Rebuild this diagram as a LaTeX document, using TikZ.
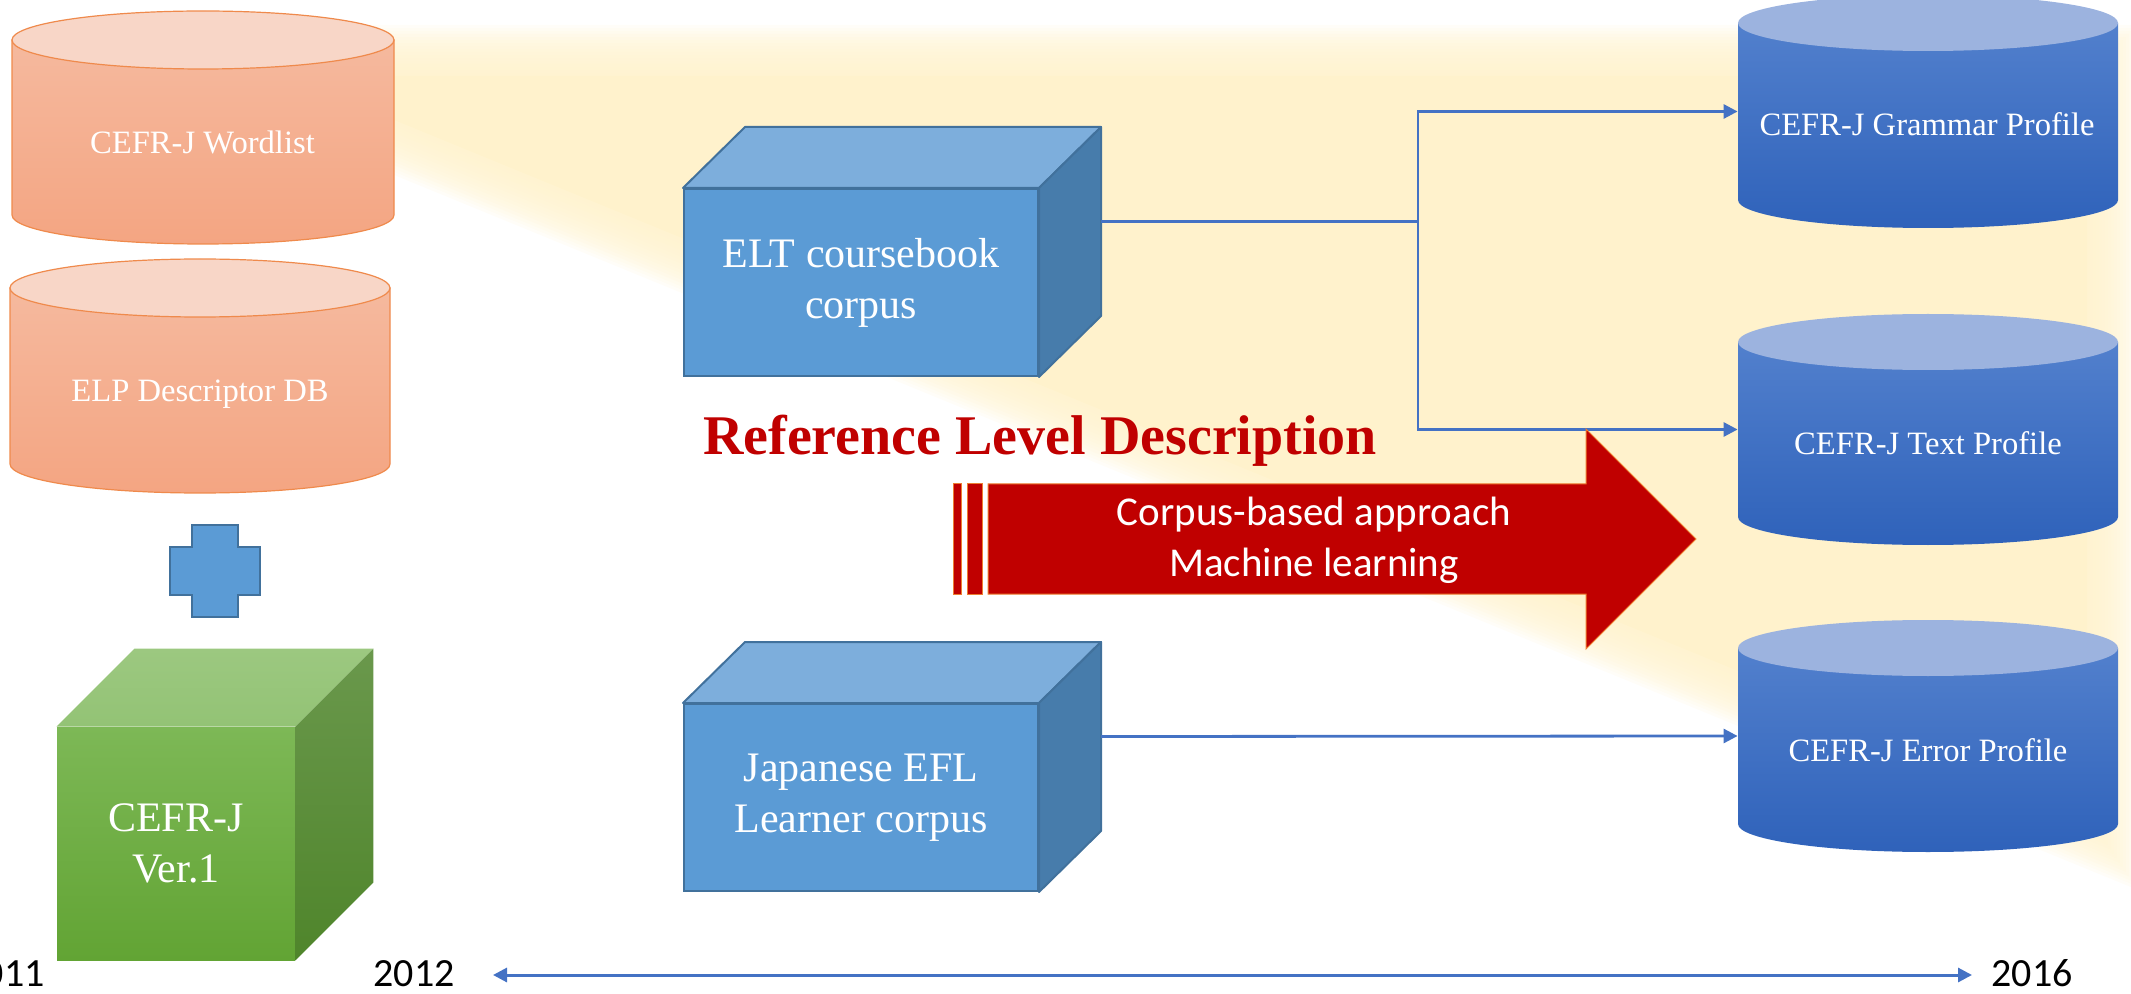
\documentclass[tikz,border=0pt]{standalone}
\usepackage{fontspec}
\setmainfont{Liberation Serif}
\newfontfamily\calib{Carlito}
\usetikzlibrary{arrows.meta}
\definecolor{glow}{HTML}{FFF2CC}
\definecolor{orTop}{HTML}{F8D6C7}
\definecolor{orBodyA}{HTML}{F5B99E}
\definecolor{orBodyB}{HTML}{F4A582}
\definecolor{orLine}{HTML}{EF8A4C}
\definecolor{blTop}{HTML}{9CB3DF}
\definecolor{blBodyA}{HTML}{5280CD}
\definecolor{blBodyB}{HTML}{2F62BA}
\definecolor{cubeFront}{HTML}{5B9BD5}
\definecolor{cubeTop}{HTML}{7DAEDC}
\definecolor{cubeSide}{HTML}{477CAB}
\definecolor{cubeLine}{HTML}{41719C}
\definecolor{grFrontA}{HTML}{7DB856}
\definecolor{grFrontB}{HTML}{62A434}
\definecolor{grTopA}{HTML}{9CC880}
\definecolor{grTopB}{HTML}{93C375}
\definecolor{grSideA}{HTML}{6A984C}
\definecolor{grSideB}{HTML}{4F852B}
\definecolor{conn}{HTML}{4472C4}
\definecolor{rlred}{HTML}{C00000}
\definecolor{arrLine}{HTML}{ED7D31}
% #1 name, #2 cx, #3 top-centre y, #4 bottom-centre y, #5 rx, #6 ry, #7 body style, #8 top style
\newcommand\dbcyl[8]{%
  \path[#7] ({#2-#5},#3) -- ({#2-#5},#4)
     .. controls ({#2-#5},{#4+0.5523*#6}) and ({#2-0.5523*#5},{#4+#6}) .. (#2,{#4+#6})
     .. controls ({#2+0.5523*#5},{#4+#6}) and ({#2+#5},{#4+0.5523*#6}) .. ({#2+#5},#4)
     -- ({#2+#5},#3) -- cycle;
  \path[#8] (#2,#3) ellipse [x radius={0.5pt*#5}, y radius={0.5pt*#6}];
  \node[inner sep=0pt, minimum width={#5*1pt}, minimum height={(#4-#3)*0.5pt}] (#1) at (#2,{(#3+#4)/2}) {};
}
\begin{document}
\begin{tikzpicture}[x=0.5pt,y=-0.5pt,
  cylbodyO/.style={top color=orBodyA,bottom color=orBodyB,draw=orLine,line width=0.6pt},
  cyltopO/.style={fill=orTop,draw=orLine,line width=0.6pt},
  cylbodyB/.style={top color=blBodyA,bottom color=blBodyB},
  cyltopB/.style={fill=blTop},
  cyltext/.style={text=white,font=\fontsize{16.3}{19}\selectfont,inner sep=0pt,anchor=base},
  bluecube/.style={fill=cubeFront,draw=cubeLine,line width=1pt,inner sep=0pt,text=white,align=center,
     font=\fontsize{21}{25.5}\selectfont,minimum width=177pt,minimum height=93.5pt},
  cubetopface/.style={fill=cubeTop,draw=cubeLine,line width=1pt,line join=round},
  cubesideface/.style={fill=cubeSide,draw=cubeLine,line width=1pt,line join=round},
  link/.style={draw=conn,line width=1.4pt},
  linkarrow/.style={link,-{Triangle[length=7pt,width=7pt]}},
  year/.style={font=\calib\fontsize{20}{24}\selectfont,inner sep=0pt,text=black},
  redshape/.style={fill=rlred,draw=arrLine,line width=0.5pt},
]
\useasboundingbox (0,0) rectangle (2131,994);

% soft yellow beam
\foreach \d in {0,3,...,48}{
  \fill[glow,opacity=0.13] (300,{25+\d}) -- ({2138-\d},{25+\d}) -- ({2138-\d},{890-1.49*\d}) -- (300,{136.5-1.08*\d}) -- cycle;
}
\fill[glow] (300,76) -- (2087,76) -- (2087,{890-1.49*51}) -- (300,{136.5-1.08*51}) -- cycle;

% left cylinders
\dbcyl{wordlist}{203}{40}{215}{191}{29}{cylbodyO}{cyltopO}
\node[cyltext] (wordlist-t) at (202.5,154) {CEFR-J Wordlist};
\dbcyl{elp}{200}{288}{464}{190}{29}{cylbodyO}{cyltopO}
\node[cyltext] (elp-t) at (200,402) {ELP Descriptor DB};

% plus sign
\path[fill=cubeFront,draw=cubeLine,line width=1pt] (192,525) -- (238,525) -- (238,547) -- (260,547) -- (260,595) -- (238,595) -- (238,617) -- (192,617) -- (192,595) -- (170,595) -- (170,547) -- (192,547) -- cycle;

% green cube
\node[inner sep=0pt, minimum width=119pt, minimum height=116.5pt, top color=grFrontA, bottom color=grFrontB,
      text=white, align=center, font=\fontsize{21}{25.5}\selectfont] (cefrj) at (176,843.5) {CEFR-J\\Ver.1};
\path[top color=grTopA,bottom color=grTopB] (cefrj.north west) -- ++(78,-78) -- ([shift={(78,-78)}]cefrj.north east) -- (cefrj.north east) -- cycle;
\path[top color=grSideA,bottom color=grSideB] (cefrj.north east) -- ++(78,-78) -- ([shift={(78,-78)}]cefrj.south east) -- (cefrj.south east) -- cycle;

% blue boxes
\node[bluecube] (elt) at (861,282.5) {ELT coursebook\\corpus};
\path[cubetopface] (elt.north west) -- ++(62,-61) -- ([shift={(62,-61)}]elt.north east) -- (elt.north east) -- cycle;
\path[cubesideface] (elt.north east) -- ++(62,-61) -- ([shift={(62,-61)}]elt.south east) -- (elt.south east) -- cycle;
\coordinate (eltR) at ([shift={(62,-61)}]elt.east);

\node[bluecube] (jap) at (861,797.5) {Japanese EFL\\Learner corpus};
\path[cubetopface] (jap.north west) -- ++(62,-61) -- ([shift={(62,-61)}]jap.north east) -- (jap.north east) -- cycle;
\path[cubesideface] (jap.north east) -- ++(62,-61) -- ([shift={(62,-61)}]jap.south east) -- (jap.south east) -- cycle;
\coordinate (japR) at ([shift={(62,-61)}]jap.east);

% right cylinders
\dbcyl{grammar}{1928}{23}{200}{190}{28}{cylbodyB}{cyltopB}
\node[cyltext] (grammar-t) at (1927,136) {CEFR-J Grammar Profile};
\dbcyl{textp}{1928}{342}{517}{190}{28}{cylbodyB}{cyltopB}
\node[cyltext] (textp-t) at (1928,455) {CEFR-J Text Profile};
\dbcyl{errorp}{1928}{648}{824}{190}{28}{cylbodyB}{cyltopB}
\node[cyltext] (errorp-t) at (1928,761) {CEFR-J Error Profile};

% connectors
\coordinate (jn) at (1418,221.5);
\draw[link] (eltR) -- (jn);
\draw[linkarrow] (jn) |- (grammar.west);
\draw[linkarrow] (jn) |- (textp.west);
\draw[linkarrow] (japR) -- (errorp.west);

% title
\node[anchor=base, text=rlred, font=\bfseries\fontsize{28}{32}\selectfont, inner sep=0pt] (title) at (1040,455) {Reference Level Description};

% big red arrow
\path[redshape] (953,484) rectangle (961,594);
\path[redshape] (967,484) rectangle (982,594);
\path[redshape] (988,484) -- (1586,484) -- (1586,429) -- (1696,539) -- (1586,649) -- (1586,594) -- (988,594) -- cycle;
\node[text=white, align=center, font=\calib\fontsize{20.5}{25.5}\selectfont, inner sep=0pt] (method) at (1314,540) {Corpus-based approach\\Machine learning};

% timeline
\node[year, anchor=base east] (y2011) at (45,986) {2011};
\node[year, anchor=base] (y2012) at (414,986) {2012};
\node[year, anchor=base] (y2016) at (2032,986) {2016};
\coordinate (tlL) at (493,975);
\coordinate (tlR) at (1972,975);
\draw[link, line width=1.5pt, {Triangle[length=7pt,width=7pt]}-{Triangle[length=7pt,width=7pt]}] (tlL) -- (tlR);
\end{tikzpicture}
\end{document}
